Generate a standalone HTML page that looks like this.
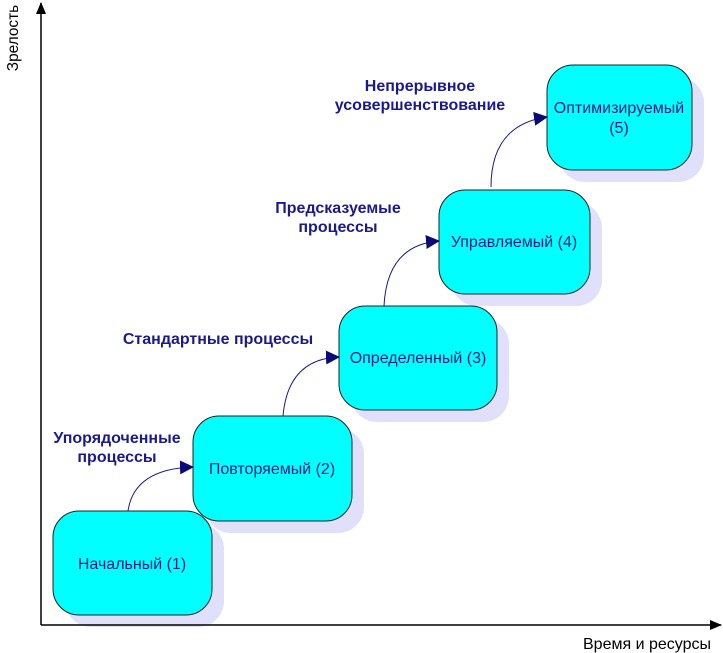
<!DOCTYPE html>
<html><head><meta charset="utf-8"><style>
html,body{margin:0;padding:0;background:#fff;}
svg{display:block;}
.b{font-family:"Liberation Sans",sans-serif;font-size:16px;font-weight:bold;fill:#1a1a8c;}
.n{font-family:"Liberation Sans",sans-serif;font-size:16px;fill:#1a1a80;}
.a{font-family:"Liberation Sans",sans-serif;font-size:16px;fill:#000;}
</style></head><body>
<svg width="723" height="653" viewBox="0 0 723 653" xmlns="http://www.w3.org/2000/svg">
<defs>
<marker id="ah" markerWidth="14" markerHeight="14" refX="13" refY="7" orient="auto" markerUnits="userSpaceOnUse">
<path d="M0,0 L14,7 L0,14 Z" fill="#0b0b78"/></marker>
<marker id="ax" markerWidth="12" markerHeight="12" refX="11" refY="6" orient="auto" markerUnits="userSpaceOnUse">
<path d="M0,1 L12,6 L0,11 Z" fill="#000"/></marker>
</defs>
<g fill="#e0e0fa">
<rect x="65" y="523" width="159" height="104" rx="26"/>
<rect x="205" y="428" width="159" height="105" rx="26"/>
<rect x="351" y="318" width="158" height="104" rx="26"/>
<rect x="451" y="202" width="151" height="104" rx="26"/>
<rect x="559" y="77" width="145" height="105" rx="26"/>
</g>
<line x1="41" y1="625" x2="41" y2="3" stroke="#000" stroke-width="1.5" marker-end="url(#ax)"/>
<line x1="41" y1="625" x2="721" y2="625" stroke="#000" stroke-width="1.5" marker-end="url(#ax)"/>
<g fill="#00ffff" stroke="#222" stroke-width="1">
<rect x="53" y="511" width="159" height="104" rx="26"/>
<rect x="193" y="416" width="159" height="105" rx="26"/>
<rect x="339" y="306" width="158" height="104" rx="26"/>
<rect x="439" y="190" width="151" height="104" rx="26"/>
<rect x="547" y="65" width="145" height="105" rx="26"/>
</g>
<g fill="none" stroke="#1a1a8c" stroke-width="1">
<path d="M128,511 Q134,469 193,467" marker-end="url(#ah)"/>
<path d="M283,416 Q288,359 339,357" marker-end="url(#ah)"/>
<path d="M384,306 Q387,245 439,241" marker-end="url(#ah)"/>
<path d="M491,187 Q491,125 547,117" marker-end="url(#ah)"/>
</g>
<g class="n" text-anchor="middle">
<text x="132" y="569">Начальный (1)</text>
<text x="272" y="474">Повторяемый (2)</text>
<text x="418" y="363">Определенный (3)</text>
<text x="514" y="247">Управляемый (4)</text>
<text x="619" y="113">Оптимизируемый</text>
<text x="619" y="133">(5)</text>
</g>
<g class="b" text-anchor="middle">
<text x="117" y="443">Упорядоченные</text>
<text x="117" y="462">процессы</text>
<text x="218" y="344">Стандартные процессы</text>
<text x="338" y="213">Предсказуемые</text>
<text x="338" y="232">процессы</text>
<text x="420" y="91">Непрерывное</text>
<text x="420" y="110">усовершенствование</text>
</g>
<text class="a" x="583" y="649">Время и ресурсы</text>
<text class="a" style="font-size:15.4px" transform="translate(18,38) rotate(-90)" text-anchor="middle">Зрелость</text>
</svg>
</body></html>
